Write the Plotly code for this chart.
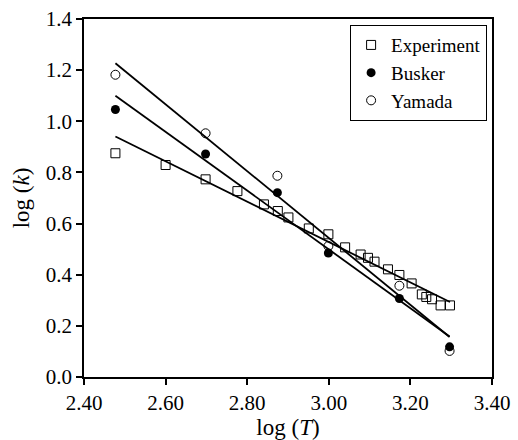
import numpy as np
import plotly.graph_objects as go

# Data
exp_x = [2.477, 2.600, 2.698, 2.776, 2.841, 2.875, 2.901, 2.951, 2.999, 3.040,
         3.078, 3.096, 3.112, 3.145, 3.173, 3.203, 3.228, 3.239, 3.253, 3.274, 3.297]
exp_y = [0.875, 0.829, 0.773, 0.727, 0.675, 0.649, 0.624, 0.581, 0.558, 0.507,
         0.479, 0.466, 0.451, 0.421, 0.399, 0.366, 0.323, 0.313, 0.304, 0.280, 0.280]

busker_x = [2.477, 2.698, 2.874, 2.999, 3.173, 3.296]
busker_y = [1.046, 0.872, 0.721, 0.485, 0.307, 0.118]

yamada_x = [2.477, 2.698, 2.874, 2.999, 3.173, 3.296]
yamada_y = [1.182, 0.953, 0.787, 0.512, 0.357, 0.102]

x_ticks = [2.40, 2.60, 2.80, 3.00, 3.20, 3.40]
y_ticks = [0.0, 0.2, 0.4, 0.6, 0.8, 1.0, 1.2, 1.4]

FONT = "Liberation Serif, Times New Roman, serif"
tick_font = dict(family=FONT, size=21, color="black")
title_font = dict(family=FONT, size=23, color="black")
legend_font = dict(family=FONT, size=19, color="black")

fig = go.Figure()


def fit_line(xs, ys):
    xs = np.array(xs)
    ys = np.array(ys)
    m, b = np.polyfit(xs, ys, 1)
    lx = np.array([xs.min(), xs.max()])
    return lx, m * lx + b


for xs, ys in [(exp_x, exp_y), (busker_x, busker_y), (yamada_x, yamada_y)]:
    lx, ly = fit_line(xs, ys)
    fig.add_trace(go.Scatter(x=lx, y=ly, mode="lines", showlegend=False,
                             line=dict(color="black", width=1.8), hoverinfo="skip"))

fig.add_trace(go.Scatter(x=exp_x, y=exp_y, mode="markers", name="Experiment",
                         marker=dict(symbol="square-open", size=9, color="black",
                                     line=dict(width=1))))
fig.add_trace(go.Scatter(x=busker_x, y=busker_y, mode="markers", name="Busker",
                         marker=dict(symbol="circle", size=9, color="black")))
fig.add_trace(go.Scatter(x=yamada_x, y=yamada_y, mode="markers", name="Yamada",
                         marker=dict(symbol="circle-open", size=9, color="black",
                                     line=dict(width=1))))

fig.update_layout(
    width=518, height=440,
    margin=dict(l=84, r=26, t=19, b=63),
    paper_bgcolor="white", plot_bgcolor="white",
    font=tick_font,
    showlegend=True,
    legend=dict(x=0.988, y=0.983, xanchor="right", yanchor="top",
                bordercolor="black", borderwidth=1, bgcolor="white",
                font=legend_font, itemwidth=30, tracegroupgap=0),
    xaxis=dict(range=[2.40, 3.40], tickvals=x_ticks,
               ticktext=[f"{v:.2f}" for v in x_ticks], tickfont=tick_font,
               showline=True, linecolor="black", linewidth=1.5, mirror=True,
               ticks="outside", ticklen=6, tickwidth=1.5, tickcolor="black",
               showgrid=False, zeroline=False, automargin=False,
               title=dict(text="log (<i>T</i>)", standoff=3, font=title_font)),
    yaxis=dict(range=[0.0, 1.4], tickvals=y_ticks,
               ticktext=[f"{v:.1f}" for v in y_ticks], tickfont=tick_font,
               showline=True, linecolor="black", linewidth=1.5, mirror=True,
               ticks="outside", ticklen=6, tickwidth=1.5, tickcolor="black",
               showgrid=False, zeroline=False, automargin=False,
               title=dict(text="log (<i>k</i>)", standoff=10, font=title_font)),
)

fig.write_html("out.html")
